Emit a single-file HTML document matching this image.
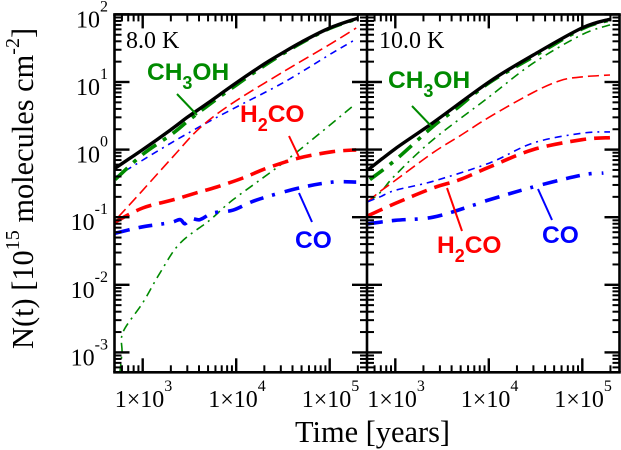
<!DOCTYPE html>
<html>
<head>
<meta charset="utf-8">
<style>
html,body{margin:0;padding:0;background:#fff;}
svg{display:block;}
text{font-family:"Liberation Serif",serif;fill:#000;}
.lab{font-family:"Liberation Sans",sans-serif;font-weight:bold;font-size:24.5px;}
</style>
</head>
<body>
<svg id="chart" width="621" height="450" viewBox="0 0 621 450" xmlns="http://www.w3.org/2000/svg">
<g id="marks"></g>
<g id="axes"></g>
<text x="126" y="48" font-size="24">8.0 K</text>
<text x="379" y="48" font-size="24">10.0 K</text>

<text class="lab" x="147" y="80" style="fill:#008a00">CH<tspan font-size="18" dy="9">3</tspan><tspan dy="-9">OH</tspan></text>
<text class="lab" x="240" y="122" style="fill:#ff0000">H<tspan font-size="18" dy="9">2</tspan><tspan dy="-9">CO</tspan></text>
<text class="lab" x="295" y="248" style="fill:#0000ff">CO</text>
<text class="lab" x="388" y="88" style="fill:#008a00">CH<tspan font-size="18" dy="9">3</tspan><tspan dy="-9">OH</tspan></text>
<text class="lab" x="437" y="253" style="fill:#ff0000">H<tspan font-size="18" dy="9">2</tspan><tspan dy="-9">CO</tspan></text>
<text class="lab" x="542" y="243" style="fill:#0000ff">CO</text>

<g fill="none" stroke-width="2">
<line x1="177" y1="94" x2="197" y2="115" stroke="#008a00"/>
<line x1="289" y1="136" x2="299" y2="157" stroke="#ff0000"/>
<line x1="299" y1="193" x2="312" y2="222" stroke="#0000ff"/>
<line x1="412" y1="106" x2="433" y2="128" stroke="#008a00"/>
<line x1="447" y1="188" x2="462" y2="231" stroke="#ff0000"/>
<line x1="538" y1="189" x2="552" y2="220" stroke="#0000ff"/>
</g>

<text x="295" y="442" font-size="30.4">Time [years]</text>
<text transform="translate(33,349) rotate(-90)" font-size="30.4">N(t) [10<tspan font-size="20" dy="-14">15</tspan><tspan dy="14"> molecules cm</tspan><tspan font-size="20" dy="-14">-2</tspan><tspan dy="14">]</tspan></text>
</svg>

<script>
// Tick values
const yDecades = [2, 1, 0, -1, -2, -3];
const xDecades = [3, 4, 5];

// 8.0 K panel
const l_total_t = [507,1000,2000,3000,5000,10000,20000,30000,50000,100000,200000];
const l_total_n = [0.53,1.0,1.97,3.0,4.9,9.7,18.5,26,39,63,88];
const l_ch3oh_thick_t = [507,1000,2000,3000,5000,10000,20000,30000,50000,100000,200000];
const l_ch3oh_thick_n = [0.36,0.85,1.65,2.6,4.5,9,17.5,25,38,62,87];
const l_ch3oh_thin_t = [570,600,616,1000,1530,2500,5200,9200,34700,184000];
const l_ch3oh_thin_n = [0.0005,0.001,0.002,0.0054,0.015,0.041,0.09,0.18,0.7,4.6];
const l_h2co_thick_t = [507,1000,2100,3800,6200,11800,21200,47000,107000,192000];
const l_h2co_thick_n = [0.085,0.137,0.18,0.23,0.28,0.38,0.53,0.75,0.93,0.99];
const l_h2co_thin_t = [545,1000,2100,4100,9200,31500,107000,192000];
const l_h2co_thin_n = [0.1,0.25,0.78,2.1,4.9,14,38,63];
const l_co_thick_t = [507,1000,1960,2500,2830,3300,4100,5600,9200,16600,47000,107000,192000];
const l_co_thick_n = [0.058,0.072,0.083,0.092,0.08,0.095,0.092,0.115,0.127,0.18,0.27,0.33,0.33];
const l_co_thin_t = [507,1530,4100,9200,31500,107000,184000];
const l_co_thin_n = [0.39,1.0,2.2,4.0,9.7,26.9,41.8];

// 10.0 K panel
const r_total_t = [510,1000,2530,10060,29800,99000,198000];
const r_total_n = [0.5,1.03,2.5,10,25,63,85];
const r_ch3oh_thick_t = [535,1000,2530,4570,10060,29800,99000,198000];
const r_ch3oh_thick_n = [0.36,0.7,2.2,4.1,9.7,23.5,61,83];
const r_ch3oh_thin_t = [510,686,1000,2530,10060,29800,99000,198000];
const r_ch3oh_thin_n = [0.17,0.23,0.42,1.4,6,19,50,70];
const r_h2co_thick_t = [510,1000,2530,4920,10060,29800,99000,198000];
const r_h2co_thick_n = [0.105,0.16,0.27,0.36,0.55,1.0,1.4,1.5];
const r_h2co_thin_t = [510,686,1000,2530,4920,10060,29800,58000,99000,198000];
const r_h2co_thin_n = [0.17,0.24,0.35,0.9,1.6,3.0,7,10.5,11.9,12.7];
const r_co_thick_t = [510,1000,2530,6780,10060,29800,99000,168000];
const r_co_thick_n = [0.08,0.09,0.1,0.15,0.18,0.28,0.42,0.45];
const r_co_thin_t = [510,686,1000,2530,10060,29800,99000,198000];
const r_co_thin_n = [0.17,0.2,0.25,0.34,0.63,1.25,1.75,1.83];

const NS = 'http://www.w3.org/2000/svg';
const marks = document.getElementById('marks');
const axes = document.getElementById('axes');
const PX_DEC_X = 93.5, PX_DEC_Y = 67.6, Y_TOP = 14.4, Y_BOTTOM = 372.3;
const LEFT = 114.5, MID = 367, RIGHT = 619.5;
const x3Left = 142.7, x3Right = 395.3;

function yScale(n){ return Y_TOP + (2 - Math.log10(n)) * PX_DEC_Y; }
function xScale(t, x3){ return x3 + (Math.log10(t) - 3) * PX_DEC_X; }

function smooth(p){
  let d = 'M' + p[0][0].toFixed(1) + ' ' + p[0][1].toFixed(1);
  for (let i = 0; i < p.length - 1; i++){
    const a = p[Math.max(i-1,0)], b = p[i], c = p[i+1], e = p[Math.min(i+2,p.length-1)];
    const c1x = b[0] + (c[0]-a[0])/6, c1y = b[1] + (c[1]-a[1])/6;
    const c2x = c[0] - (e[0]-b[0])/6, c2y = c[1] - (e[1]-b[1])/6;
    d += 'C' + c1x.toFixed(1) + ' ' + c1y.toFixed(1) + ' ' + c2x.toFixed(1) + ' ' + c2y.toFixed(1) + ' ' + c[0].toFixed(1) + ' ' + c[1].toFixed(1);
  }
  return d;
}

function series(name, ts, ns, x3, color, width, dash){
  const pts = ts.map((t,i) => [xScale(t, x3), yScale(ns[i])]);
  const el = document.createElementNS(NS, 'path');
  el.setAttribute('d', smooth(pts));
  el.setAttribute('fill', 'none');
  el.setAttribute('stroke', color);
  el.setAttribute('stroke-width', width);
  if (dash) el.setAttribute('stroke-dasharray', dash);
  
  
  marks.appendChild(el);
}

const GREEN = '#008a00', RED = '#ff0000', BLUE = '#0000ff';
const thinRed = '11 5', thinGreen = '9 5 2 5', thinBlue = '7 5 7 5 2 5';
const thickRed = '16 8', thickGreen = '17 8 4 8', thickBlue = '15 9 14 9 3 10';
const THIN = 1.6, THICK = 3.6;

series('ch3oh-thin-8k', l_ch3oh_thin_t, l_ch3oh_thin_n, x3Left, GREEN, THIN, thinGreen);
series('co-thin-8k', l_co_thin_t, l_co_thin_n, x3Left, BLUE, THIN, thinBlue);
series('h2co-thin-8k', l_h2co_thin_t, l_h2co_thin_n, x3Left, RED, THIN, thinRed);
series('ch3oh-thick-8k', l_ch3oh_thick_t, l_ch3oh_thick_n, x3Left, GREEN, THICK, thickGreen);
series('total-8k', l_total_t, l_total_n, x3Left, '#000', 3.4, null);
series('h2co-thick-8k', l_h2co_thick_t, l_h2co_thick_n, x3Left, RED, THICK, thickRed);
series('co-thick-8k', l_co_thick_t, l_co_thick_n, x3Left, BLUE, THICK, thickBlue);

series('ch3oh-thin-10k', r_ch3oh_thin_t, r_ch3oh_thin_n, x3Right, GREEN, THIN, thinGreen);
series('h2co-thin-10k', r_h2co_thin_t, r_h2co_thin_n, x3Right, RED, THIN, thinRed);
series('co-thin-10k', r_co_thin_t, r_co_thin_n, x3Right, BLUE, THIN, thinBlue);
series('ch3oh-thick-10k', r_ch3oh_thick_t, r_ch3oh_thick_n, x3Right, GREEN, THICK, thickGreen);
series('total-10k', r_total_t, r_total_n, x3Right, '#000', 3.4, null);
series('h2co-thick-10k', r_h2co_thick_t, r_h2co_thick_n, x3Right, RED, THICK, thickRed);
series('co-thick-10k', r_co_thick_t, r_co_thick_n, x3Right, BLUE, THICK, thickBlue);

function line(x1, y1, x2, y2, w, name){
  const el = document.createElementNS(NS, 'line');
  el.setAttribute('x1', x1); el.setAttribute('y1', y1);
  el.setAttribute('x2', x2); el.setAttribute('y2', y2);
  el.setAttribute('stroke', '#000');
  el.setAttribute('stroke-width', w);
  
  
  axes.appendChild(el);
}

function label(x, y, base, exp, anchor, name){
  const el = document.createElementNS(NS, 'text');
  el.setAttribute('x', x);
  el.setAttribute('y', y);
  el.setAttribute('font-size', '24');
  el.setAttribute('text-anchor', anchor);
  
  
  el.appendChild(document.createTextNode(base));
  const s = document.createElementNS(NS, 'tspan');
  s.setAttribute('font-size', '16');
  s.setAttribute('dy', '-16');
  s.textContent = exp;
  el.appendChild(s);
  axes.appendChild(el);
}

// Frame
line(LEFT-1.3, Y_TOP, RIGHT+1.3, Y_TOP, 2.6, 'top-spine');
line(LEFT-1.3, Y_BOTTOM, RIGHT+1.3, Y_BOTTOM, 2.6, 'bottom-spine');
line(LEFT, Y_TOP, LEFT, Y_BOTTOM, 2.6, 'left-spine');
line(MID, Y_TOP, MID, Y_BOTTOM, 2.6, 'middle-spine');
line(RIGHT, Y_TOP, RIGHT, Y_BOTTOM, 2.6, 'right-spine');

// Y ticks
for (let d = 2; d >= -4; d--){
  for (let m = 1; m <= 9; m++){
    const y = yScale(m * Math.pow(10, d));
    if (y < Y_TOP - 0.5 || y > Y_BOTTOM) continue;
    const len = m === 1 ? 15 : 7;
    const w = m === 1 ? 2.4 : 2;
    line(LEFT, y, LEFT + len, y, w, 'y-tick');
    line(MID - len, y, MID + len, y, w, 'y-tick-middle');
    line(RIGHT - len, y, RIGHT, y, w, 'y-tick-right');
  }
}

// X ticks
[[x3Left, LEFT, MID], [x3Right, MID, RIGHT]].forEach(([x3, a, b]) => {
  for (let d = 2; d <= 5; d++){
    for (let m = 1; m <= 9; m++){
      const x = xScale(m * Math.pow(10, d), x3);
      if (x < a + 1 || x > b - 1) continue;
      const len = m === 1 ? 14 : 7;
      const w = m === 1 ? 2.4 : 2;
      line(x, Y_BOTTOM, x, Y_BOTTOM - len, w, 'x-tick');
      line(x, Y_TOP, x, Y_TOP + len, w, 'x-tick-top');
    }
  }
});

// Tick labels
yDecades.forEach(d => {
  label(108, yScale(Math.pow(10, d)) + 13, '10', String(d), 'end', 'y-tick-label');
});
[x3Left, x3Right].forEach(x3 => {
  xDecades.forEach(d => {
    label(xScale(Math.pow(10, d), x3) - 28, 407, '1×10', String(d), 'start', 'x-tick-label');
  });
});
</script>
</body>
</html>
